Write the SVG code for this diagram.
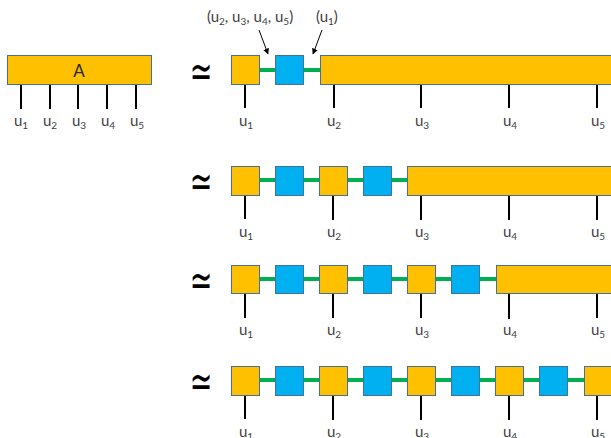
<svg xmlns="http://www.w3.org/2000/svg" width="611" height="438" viewBox="0 0 611 438">
<defs>
<style>
.o{fill:#FFC000;stroke:#41719C;stroke-width:1}
.b{fill:#00B0F0;stroke:#41719C;stroke-width:1}
.g{stroke:#00B050;stroke-width:4;fill:none}
.leg{stroke:#000;stroke-width:2;fill:none}
.lbl{font-family:Lato,"Liberation Sans",sans-serif;font-size:15px;fill:#404040;text-anchor:middle}
.sub{font-size:10px}
.eq{font-family:"DejaVu Sans",sans-serif;font-size:27px;fill:#000;text-anchor:middle}
.ann{font-family:Lato,"Liberation Sans",sans-serif;font-size:15px;fill:#404040}
.arr{stroke:#000;stroke-width:1;fill:none;marker-end:url(#ah)}
</style>
<marker id="ah" viewBox="0 0 10 10" refX="9" refY="5" markerWidth="6" markerHeight="6" orient="auto" markerUnits="userSpaceOnUse">
<path d="M0,0 L10,5 L0,10 z" fill="#000"/>
</marker>
</defs>
<rect width="611" height="438" fill="#fff"/>

<!-- connectors -->
<g id="connectors">
<path class="leg" d="M21,85V109M50,85V109M78,85V109M107,85V109M136,85V109"/>
<path class="g" d="M260,70H276M304,70H320"/>
<path class="leg" d="M245,84V108M334,84V108M421,84V108M509,84V108M597,84V108"/>
<path class="g" d="M259,180H275M304,180H319M347,180H363M392,180H407"/>
<path class="leg" d="M245,195V219M333,195V220M421,195V220M509,195V220M597,195V220"/>
<path class="g" d="M259,279H275M304,279H319M347,279H363M392,279H407M435,279H451M480,279H496"/>
<path class="leg" d="M245,293V318M333,293V318M421,293V318M509,293V319M597,293V318"/>
<path class="g" d="M259,380H275M304,380H319M347,380H363M392,380H407M435,380H451M480,380H496M524,380H539M568,380H584"/>
<path class="leg" d="M245,395V419M333,395V420M421,395V420M509,395V420M597,395V420"/>
<path class="arr" d="M259,30L268,54"/>
<path class="arr" d="M322,30L313,54"/>
</g>

<g id="A">
<rect class="o" x="7.5" y="55.5" width="144" height="29"/>
<text x="79" y="77" font-family="Lato,'Liberation Sans',sans-serif" font-size="17" fill="#262626" text-anchor="middle">A</text>
</g>
<g id="A-labels">
<text class="lbl" x="21" y="126">u<tspan class="sub" dy="3">1</tspan></text>
<text class="lbl" x="50" y="126">u<tspan class="sub" dy="3">2</tspan></text>
<text class="lbl" x="79" y="126">u<tspan class="sub" dy="3">3</tspan></text>
<text class="lbl" x="108" y="126">u<tspan class="sub" dy="3">4</tspan></text>
<text class="lbl" x="137" y="126">u<tspan class="sub" dy="3">5</tspan></text>
</g>

<g id="eq">
<text class="eq" transform="translate(201,70) scale(1,1.7)" y="9.8">≃</text>
<text class="eq" transform="translate(201,180.5) scale(1,1.7)" y="9.8">≃</text>
<text class="eq" transform="translate(201,279) scale(1,1.7)" y="9.8">≃</text>
<text class="eq" transform="translate(201,380.5) scale(1,1.7)" y="9.8">≃</text>
</g>

<g id="annotations">
<text class="ann" x="207" y="22">(u<tspan class="sub" dy="3">2</tspan><tspan dy="-3">, u</tspan><tspan class="sub" dy="3">3</tspan><tspan dy="-3">, u</tspan><tspan class="sub" dy="3">4</tspan><tspan dy="-3">, u</tspan><tspan class="sub" dy="3">5</tspan><tspan dy="-3">)</tspan></text>
<text class="ann" x="316" y="22">(u<tspan class="sub" dy="3">1</tspan><tspan dy="-3">)</tspan></text>
</g>

<g id="row1">
<rect class="o" x="231.5" y="55.5" width="28" height="29"/>
<rect class="b" x="275.5" y="55.5" width="28" height="29"/>
<rect class="o" x="320.5" y="55.5" width="300" height="29"/>
<text class="lbl" x="246" y="126">u<tspan class="sub" dy="3">1</tspan></text>
<text class="lbl" x="334" y="126">u<tspan class="sub" dy="3">2</tspan></text>
<text class="lbl" x="422" y="126">u<tspan class="sub" dy="3">3</tspan></text>
<text class="lbl" x="510" y="126">u<tspan class="sub" dy="3">4</tspan></text>
<text class="lbl" x="598" y="126">u<tspan class="sub" dy="3">5</tspan></text>
</g>

<g id="row2">
<rect class="o" x="231.5" y="166.5" width="28" height="29"/>
<rect class="b" x="275.5" y="166.5" width="28" height="29"/>
<rect class="o" x="319.5" y="166.5" width="28" height="29"/>
<rect class="b" x="363.5" y="166.5" width="28" height="29"/>
<rect class="o" x="407.5" y="166.5" width="220" height="29"/>
<text class="lbl" x="246" y="237">u<tspan class="sub" dy="3">1</tspan></text>
<text class="lbl" x="334" y="237">u<tspan class="sub" dy="3">2</tspan></text>
<text class="lbl" x="422" y="237">u<tspan class="sub" dy="3">3</tspan></text>
<text class="lbl" x="510" y="237">u<tspan class="sub" dy="3">4</tspan></text>
<text class="lbl" x="598" y="237">u<tspan class="sub" dy="3">5</tspan></text>
</g>

<g id="row3">
<rect class="o" x="231.5" y="265.5" width="28" height="28"/>
<rect class="b" x="275.5" y="265.5" width="28" height="28"/>
<rect class="o" x="319.5" y="265.5" width="28" height="28"/>
<rect class="b" x="363.5" y="265.5" width="28" height="28"/>
<rect class="o" x="407.5" y="265.5" width="28" height="28"/>
<rect class="b" x="451.5" y="265.5" width="28" height="28"/>
<rect class="o" x="496.5" y="265.5" width="130" height="28"/>
<text class="lbl" x="246" y="335">u<tspan class="sub" dy="3">1</tspan></text>
<text class="lbl" x="334" y="335">u<tspan class="sub" dy="3">2</tspan></text>
<text class="lbl" x="422" y="335">u<tspan class="sub" dy="3">3</tspan></text>
<text class="lbl" x="510" y="335">u<tspan class="sub" dy="3">4</tspan></text>
<text class="lbl" x="598" y="335">u<tspan class="sub" dy="3">5</tspan></text>
</g>

<g id="row4">
<rect class="o" x="231.5" y="366.5" width="28" height="29"/>
<rect class="b" x="275.5" y="366.5" width="28" height="29"/>
<rect class="o" x="319.5" y="366.5" width="28" height="29"/>
<rect class="b" x="363.5" y="366.5" width="28" height="29"/>
<rect class="o" x="407.5" y="366.5" width="28" height="29"/>
<rect class="b" x="451.5" y="366.5" width="28" height="29"/>
<rect class="o" x="495.5" y="366.5" width="28" height="29"/>
<rect class="b" x="539.5" y="366.5" width="28" height="29"/>
<rect class="o" x="584.5" y="366.5" width="28" height="29"/>
<text class="lbl" x="246" y="437">u<tspan class="sub" dy="3">1</tspan></text>
<text class="lbl" x="334" y="437">u<tspan class="sub" dy="3">2</tspan></text>
<text class="lbl" x="422" y="437">u<tspan class="sub" dy="3">3</tspan></text>
<text class="lbl" x="510" y="437">u<tspan class="sub" dy="3">4</tspan></text>
<text class="lbl" x="598" y="437">u<tspan class="sub" dy="3">5</tspan></text>
</g>
</svg>
